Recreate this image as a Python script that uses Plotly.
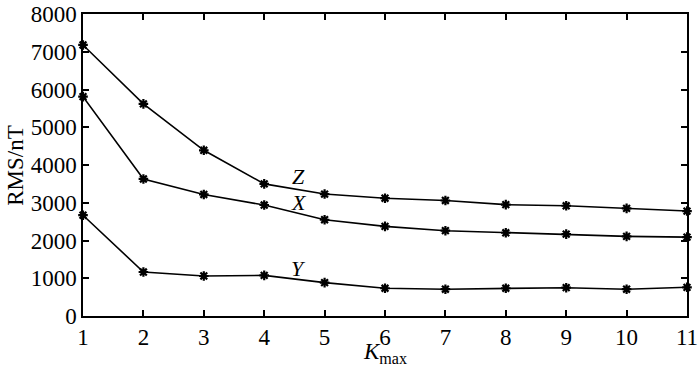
import plotly.graph_objects as go

k_values = [1, 2, 3, 4, 5, 6, 7, 8, 9, 10, 11]
z_rms = [7180, 5620, 4390, 3500, 3230, 3120, 3060, 2950, 2920, 2850, 2780]
x_rms = [5810, 3630, 3220, 2940, 2550, 2375, 2260, 2205, 2170, 2110, 2090]
y_rms = [2670, 1165, 1060, 1075, 885, 735, 710, 735, 750, 710, 760]

series_names = ["Z", "X", "Y"]
label_pos = [(4.57, 3700), (4.57, 3000), (4.57, 1270)]

FONT = "Liberation Serif"

fig = go.Figure()
for name, vals in zip(series_names, [z_rms, x_rms, y_rms]):
    fig.add_trace(go.Scatter(
        x=k_values, y=vals, mode="lines+markers", name=name,
        line=dict(color="black", width=1.6),
        marker=dict(symbol="asterisk-open", size=8, color="black",
                    line=dict(color="black", width=2.2)),
        showlegend=False, cliponaxis=False,
    ))

for name, (lx, ly) in zip(series_names, label_pos):
    fig.add_annotation(x=lx, y=ly, text=f"<i>{name}</i>", showarrow=False,
                       font=dict(family=FONT, size=22, color="black"))

axis_common = dict(
    showline=True, linecolor="black", linewidth=1.5, mirror="ticks",
    ticks="inside", ticklen=6, tickwidth=1.5, tickcolor="black",
    showgrid=False, zeroline=False, automargin=False,
    ticklabeloverflow="allow",
    tickfont=dict(family=FONT, size=23, color="black"),
)

fig.update_xaxes(range=[1, 11], tickvals=k_values, **axis_common)
fig.update_yaxes(range=[0, 8000], dtick=1000, **axis_common)

# axis titles
fig.add_annotation(xref="paper", yref="paper", x=0.5, y=-0.122, yanchor="middle",
                   text="<i>K</i><sub>max</sub>", showarrow=False,
                   font=dict(family=FONT, size=23, color="black"))
fig.add_annotation(xref="paper", yref="paper", x=-0.113, y=0.5, xanchor="center",
                   text="RMS/nT", textangle=-90, showarrow=False,
                   font=dict(family=FONT, size=23, color="black"))

fig.update_layout(
    width=700, height=374,
    margin=dict(l=83, r=13, t=14, b=58),
    plot_bgcolor="white", paper_bgcolor="white",
)

fig.write_html("out.html", config={"displayModeBar": False},
               post_script="document.body.style.margin='0';document.body.style.overflow='hidden';")
